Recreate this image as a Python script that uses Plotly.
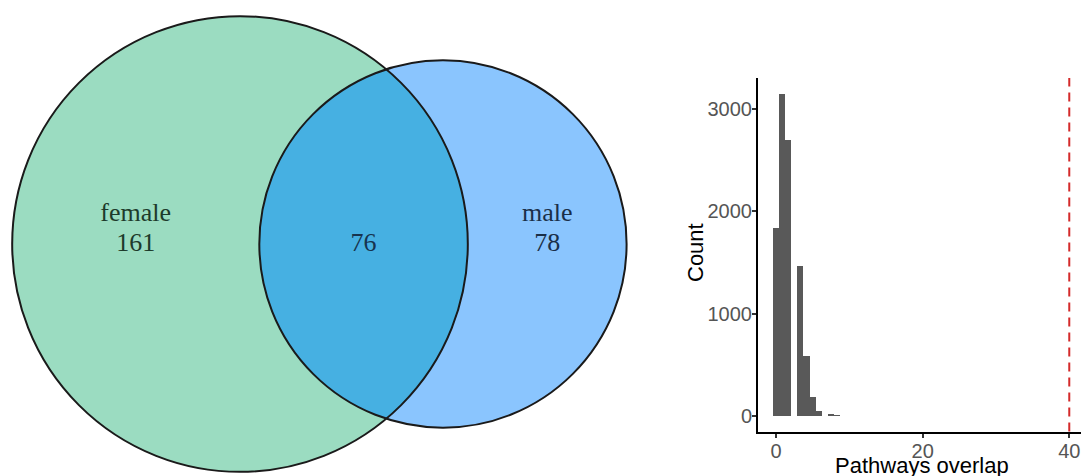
import math
import plotly.graph_objects as go

# ---- Venn diagram data (pathway sets) ----
set_names = ["female", "male"]
only_counts = [161, 78]          # female-only, male-only
shared_count = 76                # in both sets

# ---- Permutation histogram of overlaps ----
bin_width = 0.83
bin_counts = [1838, 3144, 2698, 0, 1469, 590, 183, 52, 0, 14, 5]
observed_overlap = 40
x_ticks = [0, 20, 40]
y_ticks = [0, 1000, 2000, 3000]

# ---- Venn geometry (area proportional to set size) ----
AREA_PER_ITEM = 688.0            # drawing units^2 per pathway
CX, CY = 240.0, 244.0            # centre of the first circle

tot1 = only_counts[0] + shared_count
tot2 = only_counts[1] + shared_count
r1 = math.sqrt(tot1 * AREA_PER_ITEM / math.pi)
r2 = math.sqrt(tot2 * AREA_PER_ITEM / math.pi)
target_lens = shared_count * AREA_PER_ITEM


def lens_area(d):
    if d >= r1 + r2:
        return 0.0
    if d <= abs(r1 - r2):
        return math.pi * min(r1, r2) ** 2
    a1 = math.acos((d * d + r1 * r1 - r2 * r2) / (2 * d * r1))
    a2 = math.acos((d * d + r2 * r2 - r1 * r1) / (2 * d * r2))
    k = 0.5 * math.sqrt((-d + r1 + r2) * (d + r1 - r2) * (d - r1 + r2) * (d + r1 + r2))
    return r1 * r1 * a1 + r2 * r2 * a2 - k


lo, hi = abs(r1 - r2), r1 + r2
for _ in range(80):
    mid = 0.5 * (lo + hi)
    if lens_area(mid) > target_lens:
        lo = mid
    else:
        hi = mid
dist = 0.5 * (lo + hi)
c1x, c2x = CX, CX + dist

# lens outline as a polygon path
a = (dist * dist + r1 * r1 - r2 * r2) / (2 * dist)
t1 = math.acos(a / r1)
t2 = math.acos((dist - a) / r2)
N = 120
pts = []
for i in range(N + 1):
    t = -t1 + 2 * t1 * i / N
    pts.append((c1x + r1 * math.cos(t), CY + r1 * math.sin(t)))
for i in range(N + 1):
    t = math.pi - t2 + 2 * t2 * i / N
    pts.append((c2x + r2 * math.cos(t), CY + r2 * math.sin(t)))
lens_path = "M " + " L ".join(f"{x:.2f},{y:.2f}" for x, y in pts) + " Z"

FEMALE_FILL = "#9BDCC1"
MALE_FILL = "#8AC5FE"
SHARED_FILL = "#46B0E2"
OUTLINE = "#1A1A1A"

shapes = [
    dict(type="circle", xref="x2", yref="y2", x0=c1x - r1, x1=c1x + r1,
         y0=CY - r1, y1=CY + r1, fillcolor=FEMALE_FILL, line=dict(width=0), layer="below"),
    dict(type="circle", xref="x2", yref="y2", x0=c2x - r2, x1=c2x + r2,
         y0=CY - r2, y1=CY + r2, fillcolor=MALE_FILL, line=dict(width=0), layer="below"),
    dict(type="path", xref="x2", yref="y2", path=lens_path,
         fillcolor=SHARED_FILL, line=dict(width=0), layer="below"),
    dict(type="circle", xref="x2", yref="y2", x0=c1x - r1, x1=c1x + r1,
         y0=CY - r1, y1=CY + r1, line=dict(color=OUTLINE, width=2)),
    dict(type="circle", xref="x2", yref="y2", x0=c2x - r2, x1=c2x + r2,
         y0=CY - r2, y1=CY + r2, line=dict(color=OUTLINE, width=2)),
    # observed overlap
    dict(type="line", xref="x", yref="y domain", x0=observed_overlap, x1=observed_overlap,
         y0=0, y1=1, line=dict(color="#D42A2A", width=2, dash="9px,6px")),
]

# label positions derived from the circle edges
fem_x = 0.5 * ((c1x - r1) + (c2x - r2))
male_x = 0.5 * ((c1x + r1) + (c2x + r2))
mid_x = 0.5 * ((c2x - r2) + (c1x + r1))
LINE_GAP = 30

label_x = [fem_x, fem_x, mid_x, male_x, male_x]
label_y = [CY - LINE_GAP, CY, CY, CY - LINE_GAP, CY]
label_txt = [set_names[0], str(only_counts[0]), str(shared_count),
             set_names[1], str(only_counts[1])]
label_col = ["#1D3A2B", "#1D3A2B", "#17344F", "#1A2F48", "#1A2F48"]

fig = go.Figure()

fig.add_trace(go.Scatter(
    x=label_x, y=label_y, text=label_txt, mode="text",
    textposition="middle center",
    textfont=dict(family="Liberation Serif", size=26, color=label_col),
    xaxis="x2", yaxis="y2", hoverinfo="skip", showlegend=False,
))

centers = [i * bin_width for i in range(len(bin_counts))]
fig.add_trace(go.Bar(
    x=centers, y=bin_counts, width=bin_width,
    marker=dict(color="#595959", line=dict(width=0)),
    showlegend=False,
))

W, H = 1081, 476
tick_font = dict(family="Liberation Sans", size=20, color="#555555")

fig.update_layout(
    width=W, height=H,
    margin=dict(l=0, r=0, t=0, b=0, pad=0),
    paper_bgcolor="white", plot_bgcolor="white",
    bargap=0,
    shapes=shapes,
    xaxis=dict(domain=[758 / W, 1.0], range=[-2.46, 41.6], anchor="y",
               tickvals=x_ticks, ticks="outside", ticklen=4, tickwidth=1.5,
               tickcolor="#333333", tickfont=tick_font, ticklabelstandoff=-4,
               showline=True, linecolor="black", linewidth=2,
               showgrid=False, zeroline=False),
    yaxis=dict(domain=[1 - 431.5 / H, 1 - 78 / H], range=[-152, 3304], anchor="x",
               tickvals=y_ticks, ticks="outside", ticklen=4, tickwidth=1.5,
               tickcolor="#333333", tickfont=tick_font, ticklabelstandoff=-4,
               showline=True, linecolor="black", linewidth=2,
               showgrid=False, zeroline=False),
    xaxis2=dict(domain=[0, 680 / W], range=[0, 680], anchor="y2", visible=False),
    yaxis2=dict(domain=[0, 1], range=[H, 0], anchor="x2", visible=False),
    annotations=[
        dict(text="Count", xref="paper", yref="paper", x=695 / W, y=1 - 253 / H,
             textangle=-90, showarrow=False, xanchor="center", yanchor="middle",
             font=dict(family="Liberation Sans", size=22, color="black")),
        dict(text="Pathways overlap", xref="paper", yref="paper", x=922 / W, y=1 - 465 / H,
             showarrow=False, xanchor="center", yanchor="middle",
             font=dict(family="Liberation Sans", size=22, color="black")),
    ],
)

fig.write_html("out.html")
